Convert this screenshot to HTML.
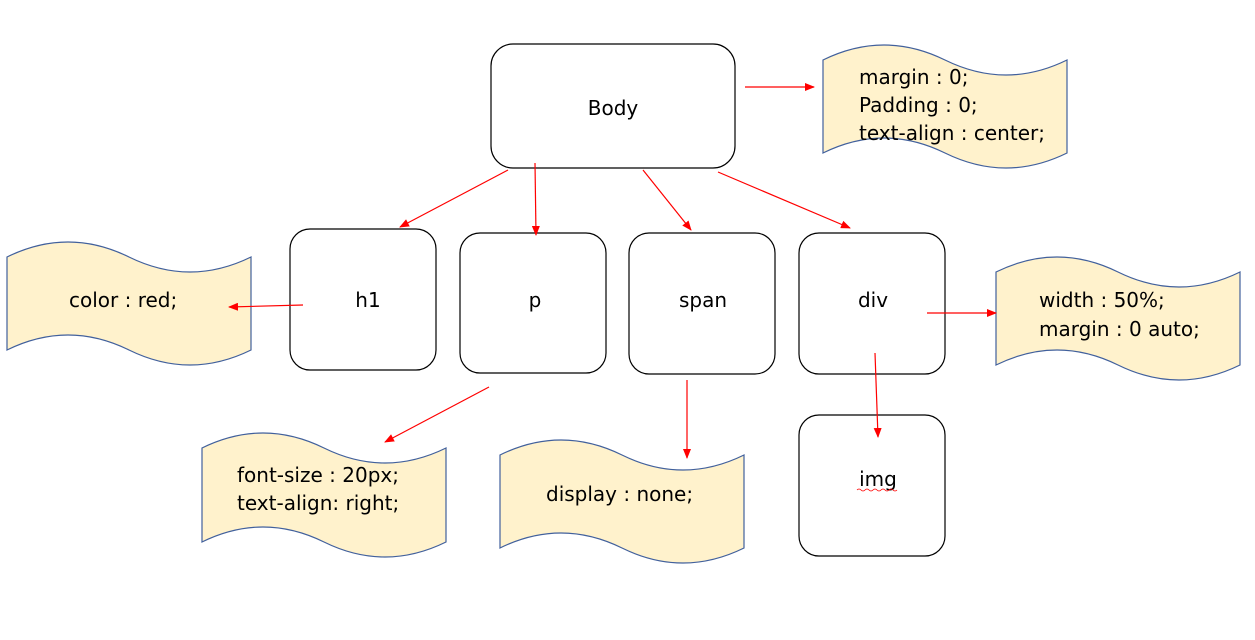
<!DOCTYPE html>
<html><head><meta charset="utf-8"><style>html,body{margin:0;padding:0;background:#fff}svg{display:block}text{font-family:"DejaVu Sans","Liberation Sans","Noto Sans CJK KR",sans-serif;font-size:20px;fill:#000}</style></head><body>
<svg width="1255" height="640" viewBox="0 0 1255 640" xmlns="http://www.w3.org/2000/svg">
<defs><marker id="a" markerWidth="10" markerHeight="8" refX="9" refY="4" orient="auto" markerUnits="userSpaceOnUse"><path d="M0,0 L10,4 L0,8z" fill="#f00"/></marker></defs>
<g fill="#fff2cc" stroke="#41609c" stroke-width="1.2">
<path d="M823,60 Q884,30 945,60 Q1006,90 1067,60 L1067,153 Q1006,183 945,153 Q884,123 823,153 Z"/>
<path d="M7,257 Q68,227 129,257 Q190,287 251,257 L251,350 Q190,380 129,350 Q68,320 7,350 Z"/>
<path d="M202,448 Q263,418 324,448 Q385,478 446,448 L446,542 Q385,572 324,542 Q263,512 202,542 Z"/>
<path d="M500,455 Q561,425 622,455 Q683,485 744,455 L744,548 Q683,578 622,548 Q561,518 500,548 Z"/>
<path d="M996,272 Q1057,242 1118,272 Q1179,302 1240,272 L1240,365 Q1179,395 1118,365 Q1057,335 996,365 Z"/>
</g>
<g fill="#fff" stroke="#000" stroke-width="1.2">
<rect x="491" y="44" width="244" height="124" rx="22"/>
<rect x="290" y="229" width="146" height="141" rx="20"/>
<rect x="460" y="233" width="146" height="140" rx="20"/>
<rect x="629" y="233" width="146" height="141" rx="20"/>
<rect x="799" y="233" width="146" height="141" rx="20"/>
<rect x="799" y="415" width="146" height="141" rx="20"/>
</g>
<g stroke="#f00" stroke-width="1.2" marker-end="url(#a)">
<line x1="745" y1="87" x2="814" y2="87"/>
<line x1="508" y1="170" x2="400" y2="227"/>
<line x1="535" y1="163" x2="536" y2="235"/>
<line x1="643" y1="170" x2="691" y2="230"/>
<line x1="718" y1="172" x2="850" y2="228"/>
<line x1="303" y1="305" x2="229" y2="307"/>
<line x1="489" y1="387" x2="385" y2="442"/>
<line x1="687" y1="380" x2="687" y2="458"/>
<line x1="927" y1="313" x2="996" y2="313"/>
<line x1="875" y1="353" x2="878" y2="437"/>
</g>
<text x="613" y="115" text-anchor="middle">Body</text>
<text x="859" y="84">margin : 0;</text>
<text x="859" y="112">Padding : 0;</text>
<text x="859" y="140">text-align : center;</text>
<text x="69" y="307">color : red;</text>
<text x="368" y="307" text-anchor="middle">h1</text>
<text x="535" y="307" text-anchor="middle">p</text>
<text x="703" y="307" text-anchor="middle">span</text>
<text x="873" y="307" text-anchor="middle">div</text>
<text x="1039" y="307">width : 50%;</text>
<text x="1039" y="336">margin : 0 auto;</text>
<text x="237" y="482">font-size : 20px;</text>
<text x="237" y="510">text-align: right;</text>
<text x="546" y="501">display : none;</text>
<text x="878" y="486" text-anchor="middle">img</text>
<path d="M857,490 q2,-2 4,0 t4,0 t4,0 t4,0 t4,0 t4,0 t4,0 t4,0 t4,0 t4,0" stroke="#f00" fill="none" stroke-width="0.8"/>
</svg>
</body></html>
